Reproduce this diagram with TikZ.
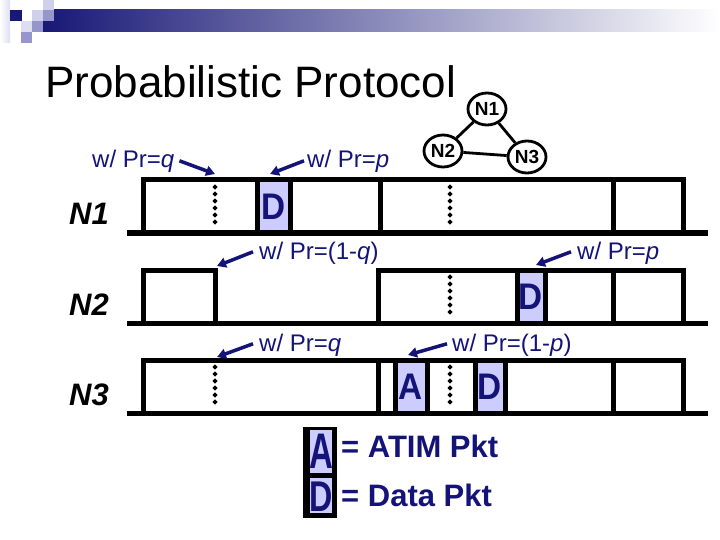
\documentclass[tikz,border=0pt]{standalone}
\usepackage{fontspec}
\setmainfont{Liberation Sans}
\usetikzlibrary{arrows.meta,shapes.geometric}
\definecolor{navy}{RGB}{20,20,120}
\definecolor{dkblue}{RGB}{24,24,118}
\definecolor{lav}{RGB}{204,204,255}
\definecolor{lavA}{RGB}{208,208,236}
\definecolor{lavB}{RGB}{150,150,204}
\definecolor{lavC}{RGB}{222,222,242}
\begin{document}
\begin{tikzpicture}[x=1pt,y=-1pt,
  tline/.style={line width=5pt, line join=miter},
  plab/.style={text=navy, font=\fontsize{24}{28}\selectfont, anchor=base west, inner sep=0pt},
  arr/.style={draw=navy, line width=3.5pt, -{Triangle[length=9pt,width=10pt]}},
  rowlab/.style={font=\bfseries\itshape\fontsize{31}{34}\selectfont, anchor=base west, inner sep=0pt},
  pkt/.style={text=navy, font=\bfseries\fontsize{37}{40}\selectfont, inner sep=0pt},
  tri/.style={draw, ellipse, line width=2.8pt, minimum width=38pt, minimum height=32pt, inner sep=0pt, font=\bfseries\fontsize{19}{20}\selectfont},
  legtxt/.style={text=navy, font=\bfseries\fontsize{31}{34}\selectfont, anchor=west, inner sep=0pt},
  dotmark/.pic={\fill (0,-2.7) -- (2.5,0) -- (0,2.7) -- (-2.5,0) -- cycle;}
]
\useasboundingbox (0,0) rectangle (720,540);

% header decoration
\shade[left color=white, right color=lavC] (0,0) rectangle (10,43);
\shade[left color=dkblue, right color=white] (43,10) rectangle (720,32);
\fill[dkblue] (10,10) rectangle (22,21);
\fill[lavA] (32,10) rectangle (43,21);
\fill[lavA] (43,0) rectangle (54,10);
\fill[lavB] (43,10) rectangle (54,21);
\fill[lavC] (21,21) rectangle (32,32);
\fill[lavB] (32,21) rectangle (43,32);
\fill[lavB] (21,32) rectangle (32,43);

% title
\node[anchor=base west, inner sep=0pt, font=\fontsize{44}{48}\selectfont] (title) at (45,98) {Probabilistic Protocol};

% topology
\node[tri] (t1) at (487,109) {N1};
\node[tri] (t2) at (443,151) {N2};
\node[tri] (t3) at (527,157) {N3};
\draw[line width=2.8pt] (t1) -- (t2) (t1) -- (t3) (t2) -- (t3);

% row labels
\node[rowlab] (r1) at (69,225) {N1};
\node[rowlab] (r2) at (69,315) {N2};
\node[rowlab] (r3) at (69,405) {N3};

% row N1
\fill[lav] (257,180) rectangle (290,233);
\draw[tline] (143,233) -- (143,180) -- (683,180) -- (683,233);
\foreach \x in {257,290,380,613} \draw[tline] (\x,180) -- (\x,233);
\draw[tline] (127,233) -- (708,233);
\foreach \x in {215,450} \foreach \d in {7,14,...,42} \pic at (\x,180+\d) {dotmark};
\node[pkt] (d1) at (273.5,207) {\scalebox{0.9}[1]{D}};

% row N2
\fill[lav] (517,270) rectangle (545,323);
\draw[tline] (143,323) -- (143,270) -- (215,270) -- (215,323);
\draw[tline] (378,323) -- (378,270) -- (683,270) -- (683,323);
\foreach \x in {517,545,613} \draw[tline] (\x,270) -- (\x,323);
\draw[tline] (127,323) -- (708,323);
\foreach \d in {7,14,...,42} \pic at (450,270+\d) {dotmark};
\node[pkt] (d2) at (531,297) {\scalebox{0.9}[1]{D}};

% row N3
\fill[lav] (395,360) rectangle (427,413);
\fill[lav] (475,360) rectangle (505,413);
\draw[tline] (143,413) -- (143,360) -- (683,360) -- (683,413);
\foreach \x in {378,395,427,475,505,613} \draw[tline] (\x,360) -- (\x,413);
\draw[tline] (127,413) -- (708,413);
\foreach \x in {215,450} \foreach \d in {7,14,...,42} \pic at (\x,360+\d) {dotmark};
\node[pkt] (a3) at (411,387) {\scalebox{0.9}[1]{A}};
\node[pkt] (d3) at (490,387) {\scalebox{0.9}[1]{D}};

% probability labels and arrows
\node[plab] (p1) at (92,168) {w/ Pr=\textit{q}};
\coordinate (p1t) at (215,174);
\draw[arr] ([xshift=5pt,yshift=1pt]p1.east) -- (p1t);

\node[plab] (p2) at (307,168) {w/ Pr=\textit{p}};
\coordinate (p2t) at (270,174);
\draw[arr] ([xshift=-3pt,yshift=1pt]p2.west) -- (p2t);

\node[plab] (p3) at (259,259) {w/ Pr=(1-\textit{q})};
\coordinate (p3t) at (217,266);
\draw[arr] ([xshift=-6pt,yshift=1pt]p3.west) -- (p3t);

\node[plab] (p4) at (577,259) {w/ Pr=\textit{p}};
\coordinate (p4t) at (536,265);
\draw[arr] ([xshift=-6pt,yshift=1pt]p4.west) -- (p4t);

\node[plab] (p5) at (259,351) {w/ Pr=\textit{q}};
\coordinate (p5t) at (217,357);
\draw[arr] ([xshift=-6pt,yshift=1pt]p5.west) -- (p5t);

\node[plab] (p6) at (452,351) {w/ Pr=(1-\textit{p})};
\coordinate (p6t) at (408,355);
\draw[arr] ([xshift=-5pt,yshift=1pt]p6.west) -- (p6t);

% legend
\fill[black] (303,427) rectangle (337,518);
\fill[lav] (310,430) rectangle (332,473);
\fill[lav] (310,478) rectangle (332,513);
\node[text=navy, inner sep=0pt, font=\bfseries\fontsize{50}{54}\selectfont] (la) at (321,451) {\scalebox{0.66}[1]{A}};
\node[text=navy, inner sep=0pt, font=\bfseries\fontsize{43}{46}\selectfont] (ld) at (321,497) {\scalebox{0.75}[1]{D}};
\node[legtxt] (lat) at (341,446) {= ATIM Pkt};
\node[legtxt] (ldt) at (341,495) {= Data Pkt};
\end{tikzpicture}
\end{document}
